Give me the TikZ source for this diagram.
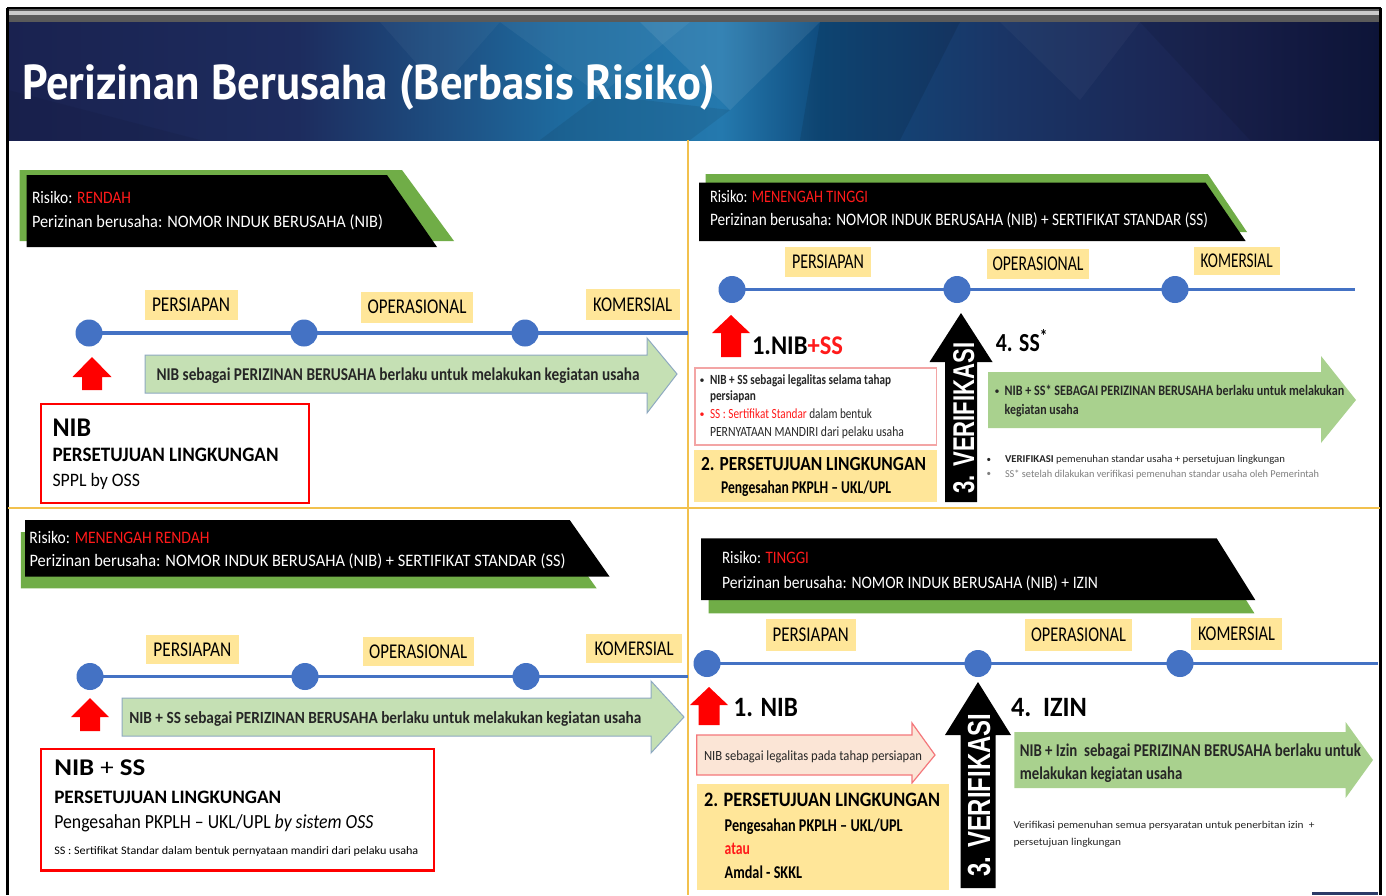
\documentclass[tikz,border=0pt]{standalone}
\usepackage{fontspec}
\usepackage{graphicx}
\setmainfont{Carlito}
\newfontfamily\titlefont{PT Sans}
\newfontfamily\headfont{Liberation Sans}

% palette
\definecolor{navyA}{HTML}{1A2250}
\definecolor{navyB}{HTML}{1D2C5E}
\definecolor{blueC}{HTML}{1E6A9E}
\definecolor{blueD}{HTML}{2479AE}
\definecolor{blueE}{HTML}{0F4C7E}
\definecolor{navyF}{HTML}{1A3566}
\definecolor{navyG}{HTML}{1B2452}
\definecolor{navyH}{HTML}{0F163D}
\definecolor{barGrey}{HTML}{5A5A5A}
\definecolor{barLight}{HTML}{C9C9C9}
\definecolor{tlblue}{HTML}{4472C4}
\definecolor{phaseyellow}{HTML}{FFE699}
\definecolor{riskred}{HTML}{FF1A1A}
\definecolor{boxred}{HTML}{FF0000}
\definecolor{pinkline}{HTML}{F3A5A5}
\definecolor{lightgreen}{HTML}{C5E0B4}
\definecolor{midgreen}{HTML}{A9D18E}
\definecolor{bannergreen}{HTML}{70AD47}
\definecolor{arrowedge}{HTML}{8EA9C1}
\definecolor{pinkfill}{HTML}{FBE5D6}
\definecolor{pinkedge}{HTML}{F4777B}
\definecolor{gold}{HTML}{F2C14E}
\definecolor{greytext}{HTML}{7F7F7F}
\definecolor{darktext}{HTML}{262626}
\definecolor{footnavy}{HTML}{2B3A67}

\pgfdeclarehorizontalshading{titlebg}{100bp}{color(0bp)=(navyA); color(25bp)=(navyA); color(35.6bp)=(navyB); color(45.1bp)=(blueC); color(51bp)=(blueD); color(54.6bp)=(blueE); color(61.2bp)=(navyF); color(68.4bp)=(navyG); color(75bp)=(navyH); color(100bp)=(navyH)}

% font size helper and horizontal fit to a given width (in pt)
\newcommand{\fs}[1]{\fontsize{#1}{#1}\selectfont}
\newcommand{\fitx}[2]{\resizebox{#1pt}{\height}{#2}}

% right-pointing block arrow: style, x start, x head base, x tip, y top, y bottom, head top, head bottom
\newcommand{\blockarrow}[8]{\path[#1] (#2,#5) -- (#3,#5) -- (#3,#7) -- (#4,{(#5+#6)/2}) -- (#3,#8) -- (#3,#6) -- (#2,#6) -- cycle;}
% upward block arrow: style, x centre, shaft half width, head half width, y bottom, y head base, y tip
\newcommand{\uparrowshape}[7]{\path[#1] ({#2-#3},#5) -- ({#2-#3},#6) -- ({#2-#4},#6) -- (#2,#7) -- ({#2+#4},#6) -- ({#2+#3},#6) -- ({#2+#3},#5) -- cycle;}

\tikzset{
  tx/.style={inner sep=0pt, outer sep=0pt, anchor=base west},
  bantext/.style={tx, text=white, font=\fs{17.5}},
  phasebox/.style={fill=phaseyellow, inner sep=0pt, anchor=center, font=\fs{21}},
  tldot/.style={circle, fill=tlblue, minimum size=27pt, inner sep=0pt},
  tline/.style={draw=tlblue, line width=3.5pt},
  redframe/.style={draw=boxred, line width=2.2pt, fill=white, inner sep=0pt, anchor=north west},
  pinkframe/.style={draw=pinkline, line width=1.2pt, fill=white, inner sep=0pt, anchor=north west},
  yellowbox/.style={fill=phaseyellow, inner sep=0pt, anchor=north west},
  verif/.style={tx, rotate=90, text=white, font=\headfont\bfseries\fs{30}},
  divider/.style={draw=gold, line width=2pt},
}

\begin{document}
\begin{tikzpicture}[x=1pt,y=-1pt]
\useasboundingbox (0,0) rectangle (1386,895);
\fill[white] (0,0) rectangle (1386,895);

% ---------- header ----------
\fill[barGrey] (8,8) rectangle (1380,22);
\fill[barLight] (8,11) rectangle (1380,14.5);
\draw[black, line width=1.5pt] (7,8) -- (1381,8);
\shade[shading=titlebg] (8,22) rectangle (1380,140);
% faceted texture
\fill[white, opacity=0.05] (500,22) -- (690,22) -- (600,95) -- cycle;
\fill[white, opacity=0.08] (640,22) -- (820,22) -- (730,110) -- cycle;
\fill[black, opacity=0.08] (600,95) -- (730,110) -- (690,140) -- (540,140) -- cycle;
\fill[white, opacity=0.04] (380,22) -- (500,22) -- (440,90) -- cycle;
\fill[black, opacity=0.10] (820,22) -- (960,22) -- (900,140) -- (800,140) -- cycle;
\fill[white, opacity=0.03] (1000,22) -- (1140,22) -- (1080,100) -- cycle;
\fill[black, opacity=0.08] (1140,22) -- (1380,22) -- (1380,140) -- (1250,140) -- cycle;
\fill[black, opacity=0.06] (8,90) -- (200,140) -- (8,140) -- cycle;
\node[tx, text=white, font=\titlefont\bfseries\fs{49}] (title) at (22,99.5) {\fitx{693}{Perizinan Berusaha (Berbasis Risiko)}};

% ---------- frame and quadrant dividers ----------
\draw[black, line width=2.5pt] (7.5,8) -- (7.5,895);
\draw[black, line width=3pt] (1380,8) -- (1380,895);
\draw[divider] (688,140) -- (688,895);
\draw[divider] (8,508) -- (1380,508);
\fill[footnavy] (1312,891.5) rectangle (1378,895);

% =========== RENDAH ===========
\fill[bannergreen] (19.5,170) -- (402,170) -- (454,241) -- (19.5,241) -- cycle;
\fill[black] (26.5,175) -- (387,175) -- (437,247) -- (26.5,247) -- cycle;
\node[bantext] (r1a) at (32,203) {\fitx{99}{Risiko: \textcolor{riskred}{RENDAH}}};
\node[bantext] (r1b) at (32,227) {\fitx{351}{Perizinan berusaha: NOMOR INDUK BERUSAHA (NIB)}};

\node[phasebox, minimum width=93pt, minimum height=30pt] (p1a) at (191,305) {\fitx{78}{PERSIAPAN}};
\node[phasebox, minimum width=112pt, minimum height=31pt] (p1b) at (417,307.2) {\fitx{99}{OPERASIONAL}};
\node[phasebox, minimum width=94pt, minimum height=31pt] (p1c) at (632.7,304.5) {\fitx{79}{KOMERSIAL}};

\coordinate (t1s) at (89,333);
\coordinate (t1e) at (688,333);
\draw[tline] (t1s) -- (t1e);
\node[tldot] (d1a) at (89,333) {};
\node[tldot] (d1b) at (304,333) {};
\node[tldot] (d1c) at (525,333) {};

\uparrowshape{fill=boxred}{92}{10}{19.5}{390}{377}{357}
\blockarrow{fill=lightgreen, draw=arrowedge, line width=1pt}{145}{647}{677}{355}{393}{338}{413}
\node[tx, font=\bfseries\fs{18}, text=darktext] (g1) at (156.5,380) {\fitx{483}{NIB sebagai PERIZINAN BERUSAHA berlaku untuk melakukan kegiatan usaha}};

\node[redframe, minimum width=268.3pt, minimum height=99pt] (box1) at (39.5,402.7) {};
\node[tx, font=\bfseries\fs{27}] (box1a) at (52.5,436.7) {\fitx{38.6}{NIB}};
\node[tx, font=\bfseries\fs{20.5}] (box1b) at (52.5,461.7) {\fitx{226}{PERSETUJUAN LINGKUNGAN}};
\node[tx, font=\fs{19}] (box1c) at (52.5,486.7) {\fitx{87.6}{SPPL by OSS}};

% =========== MENENGAH TINGGI ===========
\fill[bannergreen] (705.6,174) -- (1207.8,174) -- (1247,232) -- (705.6,232) -- cycle;
\fill[black] (699,182.7) -- (1205.6,182.7) -- (1245.6,241) -- (699,241) -- cycle;
\node[bantext] (r2a) at (710,202.7) {\fitx{158}{Risiko: \textcolor{riskred}{MENENGAH TINGGI}}};
\node[bantext] (r2b) at (710,225.7) {\fitx{498}{Perizinan berusaha: NOMOR INDUK BERUSAHA (NIB) + SERTIFIKAT STANDAR (SS)}};

\node[phasebox, minimum width=86.6pt, minimum height=29.4pt] (p2a) at (828,262) {\fitx{72}{PERSIAPAN}};
\node[phasebox, minimum width=102pt, minimum height=29.7pt] (p2b) at (1038,263.8) {\fitx{91}{OPERASIONAL}};
\node[phasebox, minimum width=86.2pt, minimum height=28.6pt] (p2c) at (1236.7,261) {\fitx{72}{KOMERSIAL}};

\coordinate (t2s) at (732,289.5);
\coordinate (t2e) at (1355,289.5);
\draw[tline] (t2s) -- (t2e);
\node[tldot] (d2a) at (732,289.5) {};
\node[tldot] (d2b) at (957,289.5) {};
\node[tldot] (d2c) at (1175,289.5) {};

\uparrowshape{fill=boxred}{731}{10}{19}{357}{333}{315}
\node[tx, font=\bfseries\fs{27}] (n2) at (752,354) {\fitx{91}{1.NIB\textcolor{riskred}{+SS}}};

\node[pinkframe, minimum width=241.4pt, minimum height=77pt] (box2) at (694.4,367.3) {};
\node[tx, font=\fs{10}, text=darktext] (bl2a) at (699.5,383) {•};
\node[tx, font=\bfseries\fs{14}, text=darktext] (l2a) at (710,384) {\fitx{181}{NIB + SS sebagai legalitas selama tahap}};
\node[tx, font=\bfseries\fs{14}, text=darktext] (l2b) at (710,400.5) {\fitx{46}{persiapan}};
\node[tx, font=\fs{10}, text=riskred] (bl2b) at (699.5,417.3) {•};
\node[tx, font=\fs{14}, text=darktext] (l2c) at (710,418.3) {\fitx{162}{\textcolor{riskred}{SS : Sertifikat Standar} dalam bentuk}};
\node[tx, font=\fs{14}, text=darktext] (l2d) at (710,436) {\fitx{194}{PERNYATAAN MANDIRI dari pelaku usaha}};

\node[yellowbox, minimum width=242.7pt, minimum height=52.4pt] (ybox2) at (694,449.3) {};
\node[tx, font=\bfseries\fs{20}] (y2a) at (701,470.7) {\fitx{225}{2. PERSETUJUAN LINGKUNGAN}};
\node[tx, font=\bfseries\fs{18}] (y2b) at (721,493.3) {\fitx{170}{Pengesahan PKPLH -- UKL/UPL}};

\uparrowshape{fill=black}{961}{16}{31.5}{502}{362}{313}
\node[verif] (v2) at (974,493.3) {\fitx{150.6}{3. VERIFIKASI}};

\node[tx, font=\bfseries\fs{26}] (s2) at (995.8,351.7) {\fitx{52}{4. SS\textsuperscript{*}}};
\blockarrow{fill=midgreen}{988}{1321}{1356}{372}{428}{356}{443}
\node[tx, font=\fs{10}, text=darktext] (bg2) at (994.5,394) {•};
\node[tx, font=\bfseries\fs{14.5}, text=darktext] (g2a) at (1004.7,395) {\fitx{339.5}{NIB + SS* SEBAGAI PERIZINAN BERUSAHA berlaku untuk melakukan}};
\node[tx, font=\bfseries\fs{14.5}, text=darktext] (g2b) at (1004.7,414) {\fitx{74}{kegiatan usaha}};

\node[tx, font=\fs{9}, text=darktext] (bv2a) at (986.5,462) {•};
\node[tx, font=\fs{10.5}, text=darktext] (v2a) at (1005,462.7) {\fitx{280}{\textbf{VERIFIKASI} pemenuhan standar usaha + persetujuan lingkungan}};
\node[tx, font=\fs{9}, text=greytext] (bv2b) at (986.5,476.6) {•};
\node[tx, font=\fs{10.5}, text=greytext] (v2b) at (1005,477.3) {\fitx{314}{SS* setelah dilakukan verifikasi pemenuhan standar usaha oleh Pemerintah}};

% =========== MENENGAH RENDAH ===========
\fill[bannergreen] (20.8,532) -- (556.7,532) -- (596.6,588.3) -- (20.8,588.3) -- cycle;
\fill[black] (25.2,520) -- (569.7,520) -- (609.6,576.7) -- (25.2,576.7) -- cycle;
\node[bantext] (r3a) at (29.5,543.3) {\fitx{180}{Risiko: \textcolor{riskred}{MENENGAH RENDAH}}};
\node[bantext] (r3b) at (29.5,566) {\fitx{536}{Perizinan berusaha: NOMOR INDUK BERUSAHA (NIB) + SERTIFIKAT STANDAR (SS)}};

\node[phasebox, minimum width=93.2pt, minimum height=29.3pt] (p3a) at (192.4,649.7) {\fitx{78}{PERSIAPAN}};
\node[phasebox, minimum width=111pt, minimum height=29.3pt] (p3b) at (418.2,651.3) {\fitx{98}{OPERASIONAL}};
\node[phasebox, minimum width=96.5pt, minimum height=29.3pt] (p3c) at (634.2,648.7) {\fitx{79}{KOMERSIAL}};

\coordinate (t3s) at (90,676.5);
\coordinate (t3e) at (688,676.5);
\draw[tline] (t3s) -- (t3e);
\node[tldot] (d3a) at (90,676.5) {};
\node[tldot] (d3b) at (305,676.5) {};
\node[tldot] (d3c) at (526,676.5) {};

\uparrowshape{fill=boxred}{90}{10}{19}{731}{717}{698}
\blockarrow{fill=lightgreen, draw=arrowedge, line width=1pt}{122}{651}{684}{698}{736}{681}{753}
\node[tx, font=\bfseries\fs{17}, text=darktext] (g3) at (129.3,723.3) {\fitx{512}{NIB + SS sebagai PERIZINAN BERUSAHA berlaku untuk melakukan kegiatan usaha}};

\node[redframe, minimum width=393.5pt, minimum height=121.6pt] (box3) at (39.5,747.7) {};
\node[tx, font=\fs{24}] (box3a) at (54.3,775) {\fitx{91}{\textbf{NIB} + \textbf{SS}}};
\node[tx, font=\bfseries\fs{19}] (box3b) at (54.3,803.3) {\fitx{227}{PERSETUJUAN LINGKUNGAN}};
\node[tx, font=\fs{20}] (box3c) at (54.3,828.3) {\fitx{319}{Pengesahan PKPLH -- UKL/UPL \textit{by sistem OSS}}};
\node[tx, font=\fs{11.5}] (box3d) at (54.3,854) {\fitx{364}{SS : Sertifikat Standar dalam bentuk pernyataan mandiri dari pelaku usaha}};

% =========== TINGGI ===========
\fill[bannergreen] (708.7,575) -- (1230.4,575) -- (1254.4,613.3) -- (708.7,613.3) -- cycle;
\fill[black] (701,538.3) -- (1216.7,538.3) -- (1255.3,600) -- (701,600) -- cycle;
\node[bantext] (r4a) at (722,563.3) {\fitx{87}{Risiko: \textcolor{riskred}{TINGGI}}};
\node[bantext] (r4b) at (722,588.3) {\fitx{376}{Perizinan berusaha: NOMOR INDUK BERUSAHA (NIB) + IZIN}};

\node[phasebox, minimum width=90.2pt, minimum height=31.7pt] (p4a) at (810.7,635.2) {\fitx{76}{PERSIAPAN}};
\node[phasebox, minimum width=107pt, minimum height=31.7pt] (p4b) at (1078.5,635.2) {\fitx{95}{OPERASIONAL}};
\node[phasebox, minimum width=91pt, minimum height=31.7pt] (p4c) at (1236.5,634.2) {\fitx{77}{KOMERSIAL}};

\coordinate (t4s) at (707,663.5);
\coordinate (t4e) at (1378,663.5);
\draw[tline] (t4s) -- (t4e);
\node[tldot] (d4a) at (707,663.5) {};
\node[tldot] (d4b) at (978,663.5) {};
\node[tldot] (d4c) at (1180,663.5) {};

\uparrowshape{fill=boxred}{709}{10.5}{19}{725}{705}{687}
\node[tx, font=\bfseries\fs{28}] (n4) at (733.6,716.7) {\fitx{64.4}{1. NIB}};

\blockarrow{fill=pinkfill, draw=pinkedge, line width=1.2pt}{696.7}{912}{935}{735}{775}{723}{783}
\node[tx, font=\fs{14}, text=darktext] (k4) at (704,760.7) {\fitx{218}{NIB sebagai legalitas pada tahap persiapan}};

\node[yellowbox, minimum width=252pt, minimum height=106pt] (ybox4) at (696.7,784) {};
\node[tx, font=\bfseries\fs{20.5}] (y4a) at (704,806.7) {\fitx{236}{2. PERSETUJUAN LINGKUNGAN}};
\node[tx, font=\bfseries\fs{18}] (y4b) at (724.7,831.7) {\fitx{178}{Pengesahan PKPLH -- UKL/UPL}};
\node[tx, font=\bfseries\fs{18}, text=riskred] (y4c) at (724.7,854) {\fitx{25.3}{atau}};
\node[tx, font=\bfseries\fs{18}] (y4d) at (724.7,878.3) {\fitx{77.3}{Amdal - SKKL}};

\uparrowshape{fill=black}{978}{17.5}{33}{888}{735}{682}
\node[verif, font=\headfont\bfseries\fs{32}] (v4) at (990,876.7) {\fitx{163}{3. VERIFIKASI}};

\node[tx, font=\bfseries\fs{28}] (z4) at (1011,716.7) {\fitx{76}{4.\ \ IZIN}};
\blockarrow{fill=midgreen}{1014.4}{1345.6}{1373}{732}{788}{722}{798}
\node[tx, font=\bfseries\fs{18}, text=darktext] (g4a) at (1019.8,756.7) {\fitx{341}{NIB + Izin\ \ sebagai PERIZINAN BERUSAHA berlaku untuk}};
\node[tx, font=\bfseries\fs{18}, text=darktext] (g4b) at (1019.8,779.3) {\fitx{162.6}{melakukan kegiatan usaha}};

\node[tx, font=\fs{10.5}, text=darktext] (q4a) at (1013.5,828.3) {\fitx{301}{Verifikasi pemenuhan semua persyaratan untuk penerbitan izin\ \ +}};
\node[tx, font=\fs{10.5}, text=darktext] (q4b) at (1013.5,845) {\fitx{107.6}{persetujuan lingkungan}};
\end{tikzpicture}
\end{document}
